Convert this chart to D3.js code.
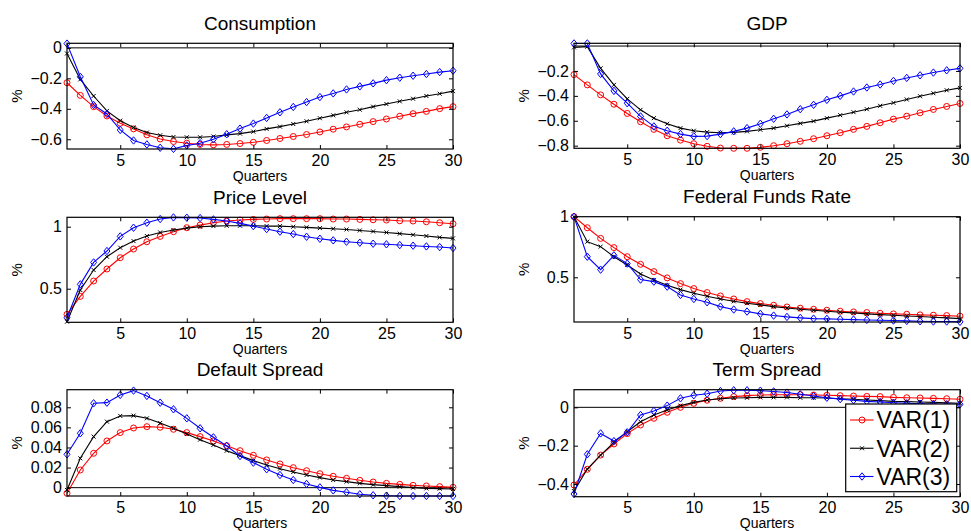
<!DOCTYPE html>
<html>
<head>
<meta charset="utf-8">
<script src="https://cdn.jsdelivr.net/npm/d3@7"></script>
<style>
  body { margin: 0; background: #fff; }
  svg { display: block; font-family: "Liberation Sans", Arial, sans-serif; }
</style>
</head>
<body>
<div id="chart"></div>
<script>
const quarters = d3.range(1, 31);
const seriesNames = ["VAR(1)", "VAR(2)", "VAR(3)"];

// Consumption
const consVar1 = [-0.229,-0.312,-0.386,-0.447,-0.495,-0.532,-0.571,-0.598,-0.615,-0.626,-0.634,-0.637,-0.634,-0.628,-0.620,-0.608,-0.595,-0.582,-0.569,-0.552,-0.534,-0.519,-0.502,-0.484,-0.467,-0.449,-0.432,-0.417,-0.399,-0.386];
const consVar2 = [-0.037,-0.207,-0.316,-0.414,-0.478,-0.523,-0.556,-0.574,-0.585,-0.587,-0.587,-0.582,-0.571,-0.563,-0.550,-0.532,-0.517,-0.500,-0.482,-0.462,-0.443,-0.423,-0.406,-0.386,-0.369,-0.351,-0.334,-0.316,-0.301,-0.284];
const consVar3 = [0.028,-0.190,-0.375,-0.434,-0.539,-0.608,-0.634,-0.656,-0.663,-0.641,-0.626,-0.600,-0.567,-0.530,-0.497,-0.460,-0.423,-0.388,-0.356,-0.323,-0.299,-0.273,-0.253,-0.233,-0.212,-0.196,-0.183,-0.172,-0.159,-0.150];

// GDP
const gdpVar1 = [-0.229,-0.312,-0.392,-0.467,-0.541,-0.608,-0.669,-0.720,-0.755,-0.784,-0.805,-0.819,-0.821,-0.821,-0.813,-0.800,-0.784,-0.765,-0.744,-0.720,-0.696,-0.669,-0.645,-0.616,-0.587,-0.563,-0.536,-0.509,-0.485,-0.461];
const gdpVar2 = [-0.011,-0.005,-0.179,-0.312,-0.424,-0.512,-0.579,-0.624,-0.659,-0.680,-0.691,-0.696,-0.693,-0.685,-0.672,-0.659,-0.640,-0.621,-0.603,-0.579,-0.555,-0.531,-0.507,-0.480,-0.456,-0.429,-0.403,-0.379,-0.355,-0.336];
const gdpVar3 = [0.021,0.021,-0.224,-0.360,-0.459,-0.565,-0.645,-0.680,-0.707,-0.725,-0.723,-0.707,-0.685,-0.659,-0.624,-0.584,-0.549,-0.507,-0.472,-0.432,-0.400,-0.365,-0.333,-0.309,-0.280,-0.256,-0.235,-0.213,-0.195,-0.179];

// Price level
const priceVar1 = [0.293,0.438,0.562,0.659,0.750,0.820,0.879,0.922,0.960,0.992,1.013,1.032,1.046,1.054,1.059,1.062,1.065,1.065,1.065,1.065,1.062,1.062,1.059,1.056,1.054,1.048,1.046,1.040,1.032,1.024];
const priceVar2 = [0.234,0.489,0.651,0.758,0.831,0.884,0.925,0.954,0.973,0.989,1.000,1.005,1.008,1.008,1.008,1.005,1.005,1.000,0.995,0.989,0.984,0.978,0.970,0.962,0.954,0.944,0.935,0.925,0.914,0.906];
const priceVar3 = [0.266,0.535,0.712,0.804,0.922,0.992,1.032,1.062,1.075,1.073,1.070,1.059,1.046,1.027,1.005,0.981,0.960,0.941,0.919,0.903,0.890,0.879,0.871,0.863,0.858,0.852,0.847,0.841,0.836,0.828];

// Federal funds rate
const ffrVar1 = [1.000,0.909,0.821,0.745,0.670,0.607,0.547,0.495,0.448,0.407,0.374,0.346,0.321,0.299,0.283,0.269,0.255,0.245,0.236,0.228,0.220,0.214,0.209,0.203,0.198,0.195,0.190,0.187,0.184,0.179];
const ffrVar2 = [1.000,0.794,0.753,0.670,0.602,0.527,0.478,0.434,0.398,0.368,0.343,0.321,0.302,0.286,0.272,0.258,0.247,0.236,0.228,0.220,0.212,0.206,0.198,0.192,0.187,0.181,0.176,0.170,0.165,0.159];
const ffrVar3 = [1.000,0.670,0.563,0.681,0.613,0.481,0.464,0.423,0.354,0.321,0.294,0.258,0.234,0.217,0.198,0.184,0.173,0.165,0.159,0.157,0.154,0.151,0.148,0.146,0.143,0.140,0.137,0.135,0.135,0.132];

// Default spread
const defVar1 = [-0.0056,0.0176,0.0342,0.0465,0.0548,0.0594,0.0607,0.0601,0.0581,0.0548,0.0508,0.0465,0.0418,0.0368,0.0322,0.0276,0.0236,0.0199,0.0169,0.0139,0.0113,0.0093,0.0073,0.0056,0.0043,0.0033,0.0023,0.0017,0.0010,0.0003];
const defVar2 = [-0.0023,0.0292,0.0508,0.0657,0.0714,0.0717,0.0690,0.0644,0.0591,0.0534,0.0478,0.0425,0.0368,0.0319,0.0269,0.0226,0.0189,0.0156,0.0126,0.0100,0.0076,0.0060,0.0043,0.0030,0.0020,0.0010,0.0000,-0.0007,-0.0010,-0.0013];
const defVar3 = [0.0332,0.0541,0.0840,0.0846,0.0923,0.0966,0.0913,0.0846,0.0780,0.0690,0.0591,0.0501,0.0415,0.0315,0.0249,0.0183,0.0126,0.0076,0.0037,0.0003,-0.0027,-0.0046,-0.0066,-0.0076,-0.0080,-0.0083,-0.0083,-0.0083,-0.0083,-0.0083];

// Term spread
const termVar1 = [-0.405,-0.323,-0.249,-0.191,-0.137,-0.092,-0.057,-0.026,0.000,0.021,0.037,0.047,0.056,0.061,0.064,0.066,0.066,0.066,0.064,0.063,0.061,0.059,0.057,0.056,0.052,0.050,0.049,0.047,0.045,0.042];
const termVar2 = [-0.437,-0.322,-0.249,-0.183,-0.127,-0.075,-0.040,-0.014,0.009,0.026,0.038,0.045,0.049,0.050,0.052,0.052,0.052,0.050,0.050,0.049,0.045,0.042,0.038,0.035,0.031,0.030,0.028,0.026,0.024,0.021];
const termVar3 = [-0.452,-0.245,-0.136,-0.176,-0.130,-0.040,-0.019,0.009,0.047,0.063,0.071,0.085,0.089,0.089,0.087,0.083,0.077,0.068,0.059,0.050,0.043,0.037,0.031,0.028,0.024,0.021,0.019,0.017,0.016,0.016];

const xTicks = [5, 10, 15, 20, 25, 30];

const panels = [
  { title: "Consumption", series: [consVar1, consVar2, consVar3], yDomain: [-0.664, 0.03], yTicks: [-0.6, -0.4, -0.2, 0], fmt: d3.format(".1f"),
    left: 67, right: 453, top: 43.3, bottom: 149 },
  { title: "GDP", series: [gdpVar1, gdpVar2, gdpVar3], yDomain: [-0.821, 0.022], yTicks: [-0.8, -0.6, -0.4, -0.2], fmt: d3.format(".1f"),
    left: 574, right: 960, top: 43.3, bottom: 148.3 },
  { title: "Price Level", series: [priceVar1, priceVar2, priceVar3], yDomain: [0.229, 1.076], yTicks: [0.5, 1], fmt: d3.format(""),
    left: 67, right: 453, top: 217.3, bottom: 322.3 },
  { title: "Federal Funds Rate", series: [ffrVar1, ffrVar2, ffrVar3], yDomain: [0.131, 1], yTicks: [0.5, 1], fmt: d3.format(""),
    left: 574, right: 960, top: 216.7, bottom: 322 },
  { title: "Default Spread", series: [defVar1, defVar2, defVar3], yDomain: [-0.0083, 0.0975], yTicks: [0, 0.02, 0.04, 0.06, 0.08], fmt: d3.format(".2f"),
    left: 67, right: 453, top: 389.7, bottom: 496 },
  { title: "Term Spread", series: [termVar1, termVar2, termVar3], yDomain: [-0.466, 0.092], yTicks: [-0.4, -0.2, 0], fmt: d3.format(".1f"),
    left: 574, right: 960, top: 389.7, bottom: 496.7 }
];

const colors = ["#ff0000", "#000000", "#0000ff"];
const width = 971, height = 531;

const svg = d3.select("#chart").append("svg")
  .attr("width", width)
  .attr("height", height);

function tickLabel(fmt, v) {
  if (v === 0) return "0";
  return fmt(v).replace("-", "\u2212");
}

function drawMarker(g, i, cx, cy) {
  if (i === 0) {
    g.append("circle").attr("cx", cx).attr("cy", cy).attr("r", 3)
      .attr("fill", "none").attr("stroke", colors[0]).attr("stroke-width", 1);
  } else if (i === 1) {
    g.append("path")
      .attr("d", `M${cx - 2},${cy - 2}L${cx + 2},${cy + 2}M${cx - 2},${cy + 2}L${cx + 2},${cy - 2}`)
      .attr("stroke", colors[1]).attr("stroke-width", 1);
  } else {
    g.append("path")
      .attr("d", `M${cx},${cy - 3.7}L${cx + 3},${cy}L${cx},${cy + 3.7}L${cx - 3},${cy}Z`)
      .attr("fill", "none").attr("stroke", colors[2]).attr("stroke-width", 1);
  }
}

panels.forEach(function (p) {
  const x = d3.scaleLinear().domain([1, 30]).range([p.left, p.right]);
  const y = d3.scaleLinear().domain(p.yDomain).range([p.bottom, p.top]);
  const g = svg.append("g");

  // zero line
  if (p.yDomain[0] < 0 && p.yDomain[1] > 0) {
    g.append("line")
      .attr("x1", p.left).attr("x2", p.right)
      .attr("y1", y(0)).attr("y2", y(0))
      .attr("stroke", "#000").attr("stroke-width", 1);
  }

  const line = d3.line().x((d, i) => x(quarters[i])).y(d => y(d));

  p.series.forEach(function (vals, si) {
    g.append("path")
      .datum(vals)
      .attr("d", line)
      .attr("fill", "none")
      .attr("stroke", colors[si])
      .attr("stroke-width", 1.1);
    vals.forEach(function (v, i) {
      drawMarker(g, si, x(quarters[i]), y(v));
    });
  });

  // axes (ticks inside, mirrored like a boxed MATLAB axes)
  const tl = 4;
  g.append("g")
    .attr("transform", `translate(0,${p.bottom})`)
    .call(d3.axisBottom(x).tickValues(xTicks).tickSize(-tl).tickPadding(5).tickFormat(d3.format("d")))
    .call(a => a.select(".domain").remove())
    .call(a => a.selectAll("text").attr("font-size", 16).attr("dy", "0.72em").attr("fill", "#000"));
  g.append("g")
    .attr("transform", `translate(0,${p.top})`)
    .call(d3.axisTop(x).tickValues(xTicks).tickSize(-tl).tickFormat(""))
    .call(a => a.select(".domain").remove());
  g.append("g")
    .attr("transform", `translate(${p.left},0)`)
    .call(d3.axisLeft(y).tickValues(p.yTicks).tickSize(-tl).tickPadding(5).tickFormat(v => tickLabel(p.fmt, v)))
    .call(a => a.select(".domain").remove())
    .call(a => a.selectAll("text").attr("font-size", 16).attr("fill", "#000"));
  g.append("g")
    .attr("transform", `translate(${p.right},0)`)
    .call(d3.axisRight(y).tickValues(p.yTicks).tickSize(-tl).tickFormat(""))
    .call(a => a.select(".domain").remove());

  g.append("rect")
    .attr("x", p.left).attr("y", p.top)
    .attr("width", p.right - p.left).attr("height", p.bottom - p.top)
    .attr("fill", "none").attr("stroke", "#000").attr("stroke-width", 1.2);

  const cx = (p.left + p.right) / 2;
  g.append("text")
    .attr("x", cx).attr("y", p.top - 13.5)
    .attr("text-anchor", "middle").attr("font-size", 19)
    .text(p.title);
  g.append("text")
    .attr("x", cx).attr("y", p.bottom + 31.5)
    .attr("text-anchor", "middle").attr("font-size", 14)
    .text("Quarters");
  g.append("text")
    .attr("transform", `translate(${p.left - 45},${(p.top + p.bottom) / 2}) rotate(-90)`)
    .attr("text-anchor", "middle").attr("font-size", 15)
    .text("%");
});

// legend in the Term Spread panel
const legend = svg.append("g");
legend.append("rect")
  .attr("x", 845.7).attr("y", 404).attr("width", 111).attr("height", 87.7)
  .attr("fill", "#fff").attr("stroke", "#000").attr("stroke-width", 1.2);
const legendY = d3.scalePoint().domain(seriesNames).range([420, 476.5]);
seriesNames.forEach(function (name, i) {
  const ly = legendY(name);
  legend.append("line")
    .attr("x1", 850).attr("x2", 873.5).attr("y1", ly).attr("y2", ly)
    .attr("stroke", colors[i]).attr("stroke-width", 1.1);
  drawMarker(legend, i, 862, ly);
  legend.append("text")
    .attr("x", 876.5).attr("y", ly).attr("dy", "0.36em")
    .attr("font-size", 23)
    .text(name);
});
</script>
</body>
</html>
